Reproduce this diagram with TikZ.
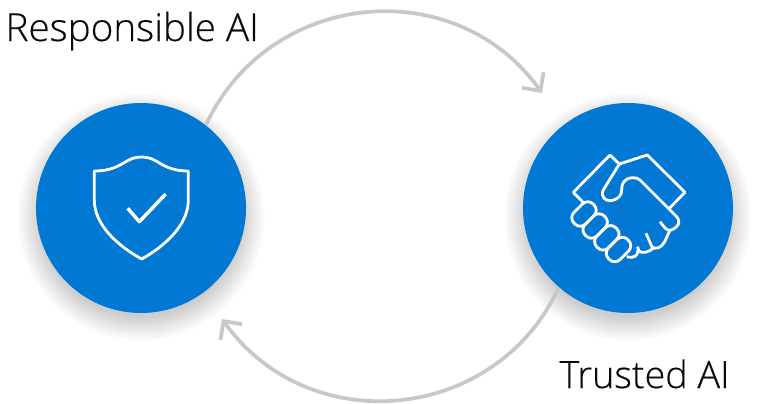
\documentclass[tikz,border=0pt]{standalone}
\usepackage{fontspec}
\setmainfont{Open Sans Light}
\usetikzlibrary{arrows.meta}
\tikzset{
	every picture/.style={line width=0.75pt},
	aicircle/.style={circle,inner sep=0pt,minimum size=157.5pt,fill={rgb, 255:red, 0; green, 120; blue, 212}},
	ailabel/.style={inner sep=0pt,anchor=base west,text={rgb, 255:red, 10; green, 10; blue, 10},font=\fontsize{29pt}{36pt}\selectfont\addfontfeature{FakeBold=0.3}},
	cyclearrow/.style={draw={rgb, 255:red, 200; green, 200; blue, 200},line width=2.8pt,-{Straight Barb[length=10pt,width=20pt,line width=2.8pt]}},
	iconline/.style={draw=white,line width=2.1pt,line join=round},
	softshadow/.style={fill=black,fill opacity=0.006}}

\begin{document}
\begin{tikzpicture}[x=0.75pt,y=0.75pt,yscale=-1,xscale=1]
	\useasboundingbox (0,0) rectangle (769,404);

	%Shadows
	\foreach \r in {100,101,...,124} {
		\fill [softshadow] (141,217) circle [radius=\r];
		\fill [softshadow] (628,217) circle [radius=\r];
	}

	%Circles
	\node [aicircle] (responsible) at (141,208) {};
	\node [aicircle] (trusted) at (628,208) {};
	\coordinate (trustedin) at (542,93);
	\coordinate (responsiblein) at (222,319);

	%Arrows
	\draw [cyclearrow] (responsible.52) to [out=-65,in=-125.6,looseness=1.13] (trustedin);
	\draw [cyclearrow] (trusted.229) to [out=115,in=54.4,looseness=1.13] (responsiblein);

	%Shield
	\draw [iconline] (94.3,171) .. controls (112,171) and (120,165) .. (127,161) .. controls (132,158) and (137,157) .. (141.7,157) .. controls (146,157) and (151,158) .. (156,161) .. controls (163,165) and (171,171) .. (188.3,171) -- (188.3,200) .. controls (188.3,225) and (165,246) .. (141.7,259) .. controls (118,246) and (94.3,225) .. (94.3,200) -- cycle ;
	%Check
	\draw [iconline,line width=2.6pt] (127.7,208.3) -- (139.3,221.7) -- (165.7,194) ;

	%Hand cuffs
	\draw [iconline] (584,203.3) -- (573.3,192.3) -- (610,155) -- (619.3,164) -- (647.3,155) -- (685,192.3) -- (669.3,208.3) ;
	%Thumb and palm
	\draw [iconline] (619.3,164) -- (603.3,190) .. controls (600,197) and (606,201) .. (610,200.7) .. controls (618,200) and (622,195) .. (621.7,190) .. controls (621,184) and (625,178) .. (631.7,177.7) .. controls (635,177.5) and (638,178) .. (640,180) -- (676.7,216.7) .. controls (681,222) and (678,226) .. (675,228) .. controls (671,231) and (668,231) .. (665,228) -- (660,221.7) ;
	\draw [iconline] (670,230) .. controls (668,235) and (667,236) .. (666,239) .. controls (662,248) and (656,250) .. (652,247) -- (646,233.3) ;
	\draw [iconline] (653.3,248.3) .. controls (649,252) and (642,254) .. (639,251) -- (637.3,246.7) ;
	\draw [iconline] (638,250) .. controls (638,255) and (635,259) .. (626.7,256.7) ;

	%Fingers
	\foreach \fx/\fy in {584/214,595.2/226,606.8/237.8,618.5/249.5} {
		\draw [iconline,shift={(\fx,\fy)},rotate=-45,rounded corners=5.6pt] (-13.5,-8.2) rectangle (13.5,8.2) ;
	}

	% Text Node
	\node [ailabel] (responsiblelabel) at (5,41) {Responsible AI};
	% Text Node
	\node [ailabel,font=\fontsize{28.3pt}{36pt}\selectfont\addfontfeature{FakeBold=0.3}] (trustedlabel) at (559,388) {Trusted AI};
\end{tikzpicture}
\end{document}
